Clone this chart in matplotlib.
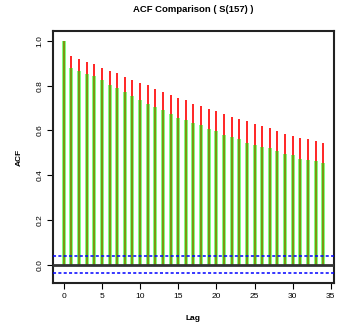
import numpy as np
import matplotlib
matplotlib.use("Agg")
import matplotlib.pyplot as plt

plt.rcParams['font.family'] = ['Liberation Sans', 'DejaVu Sans']

# lags and the two ACF series
lags = list(range(35))
acf_red = [1.0, 0.932, 0.919, 0.907, 0.896, 0.879, 0.867, 0.855, 0.840, 0.826,
           0.813, 0.802, 0.785, 0.772, 0.758, 0.745, 0.735, 0.720, 0.709, 0.696,
           0.687, 0.675, 0.660, 0.652, 0.641, 0.629, 0.618, 0.609, 0.597, 0.585,
           0.575, 0.567, 0.560, 0.551, 0.542]
acf_green = [1.0, 0.881, 0.867, 0.852, 0.845, 0.824, 0.805, 0.788, 0.770, 0.754,
             0.737, 0.718, 0.706, 0.690, 0.675, 0.655, 0.646, 0.632, 0.623, 0.606,
             0.597, 0.579, 0.572, 0.562, 0.545, 0.535, 0.526, 0.520, 0.506, 0.496,
             0.490, 0.473, 0.467, 0.465, 0.454]
conf = 0.037
xticks = [0, 5, 10, 15, 20, 25, 30, 35]
yticks = [0.0, 0.2, 0.4, 0.6, 0.8, 1.0]

fig = plt.figure(figsize=(3.4, 3.26), dpi=100)
ax = fig.add_axes([0.156, 0.132, 0.826, 0.773])

ax.vlines(lags, 0, acf_red, color='red', lw=1.2, zorder=2)
ax.vlines(lags, 0, acf_green, color=(0, 1, 0), alpha=0.5, lw=2.9, zorder=3)
ax.axhline(0, color='#333333', lw=2, zorder=4)
ax.axhline(conf, color='blue', lw=1.1, ls=(0, (2, 1.5)), zorder=4)
ax.axhline(-conf, color='blue', lw=1.1, ls=(0, (2, 1.5)), zorder=4)

ax.set_xlim(-1.4, 35.4)
ax.set_ylim(-0.082, 1.045)
ax.set_xticks(xticks)
ax.set_yticks(yticks)
ax.set_yticklabels(['%.1f' % v for v in yticks], rotation=90, va='center')
ax.tick_params(labelsize=6, length=4, width=0.8, pad=3, color='black')
for s in ax.spines.values():
    s.set_linewidth(1.5)
    s.set_color('#222222')

ax.set_xlabel('Lag', fontsize=6, fontweight='bold', labelpad=11)
ax.set_ylabel('ACF', fontsize=6, fontweight='bold', labelpad=10)
ax.set_title('ACF Comparison ( S(157) )', fontsize=6.8, fontweight='bold', pad=14)

fig.savefig('out.png', dpi=100)
